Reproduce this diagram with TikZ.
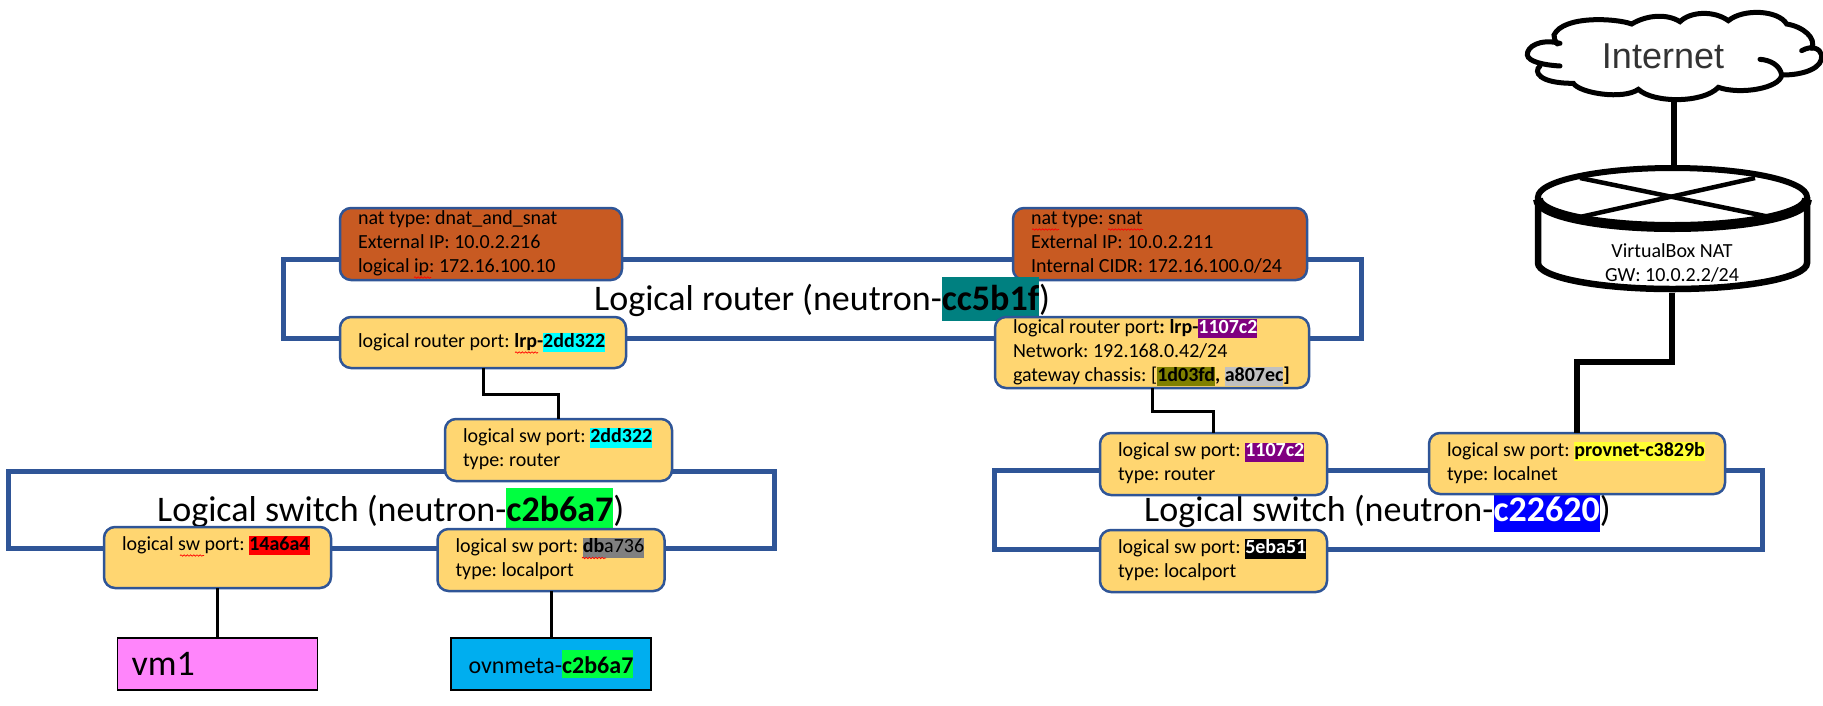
\documentclass[tikz,border=0pt]{standalone}
\usepackage{fontspec}
\setmainfont{Carlito}
\newfontfamily\inetfont{Liberation Sans}
\usetikzlibrary{decorations.pathmorphing}
\definecolor{natfill}{HTML}{C85A22}
\definecolor{portfill}{HTML}{FFD671}
\definecolor{edge}{HTML}{2F5597}
\definecolor{hcyan}{HTML}{00FFFF}
\definecolor{hlime}{HTML}{00FF40}
\definecolor{hteal}{HTML}{008080}
\definecolor{hpurple}{HTML}{800080}
\definecolor{holive}{HTML}{808000}
\definecolor{hsilver}{HTML}{C0C0C0}
\definecolor{hgray}{HTML}{808080}
\definecolor{hyellow}{HTML}{FFFF33}
\definecolor{vmpink}{HTML}{FF85FB}
\definecolor{ovnblue}{HTML}{00AEEF}
\frenchspacing
\newcommand\ls{\rule[-5pt]{0pt}{19pt}}
\newcommand\tln[1]{\mbox{\spaceskip=0pt\relax\ls #1}}
\newcommand\hlt[2]{{\setlength{\fboxsep}{0pt}\colorbox{#1}{\ls #2}}}
\newcommand\hltb[2]{{\setlength{\fboxsep}{0pt}\colorbox{#1}{\rule[-11pt]{0pt}{44pt}#2}}}
\newcommand\hlo[2]{{\setlength{\fboxsep}{0pt}\colorbox{#1}{\rule[-5pt]{0pt}{28pt}#2}}}
\tikzset{
  small/.style={font=\fontsize{20}{24}\selectfont},
  loopbox/.style={draw=edge,line width=5pt,rectangle,inner sep=0pt,outer sep=0pt},
  titletext/.style={anchor=base west,inner sep=0pt,font=\fontsize{36}{44}\selectfont},
  natbox/.style={small,draw=edge,fill=natfill,line width=2.5pt,rounded corners=11pt,align=left,inner xsep=18pt,inner ysep=0pt,outer sep=0pt},
  portbox/.style={small,draw=edge,fill=portfill,line width=2.5pt,rounded corners=11pt,align=left,inner xsep=18pt,inner ysep=0pt,outer sep=0pt},
  conn/.style={draw=black,line width=3pt},
  thick conn/.style={draw=black,line width=5.5pt},
  squig/.style={draw=red,line width=.7pt,decorate,decoration={snake,amplitude=.7pt,segment length=3.2pt}},
  vmbox/.style={draw=black,line width=1.2pt,rectangle,minimum height=52pt,outer sep=0pt,inner ysep=0pt},
  routerline/.style={draw=black,line width=6.5pt},
}
\begin{document}
\begin{tikzpicture}[x=1pt,y=-1pt]
\useasboundingbox (0,0) rectangle (1823,705);
% loops
\node[loopbox,minimum width=1078pt,minimum height=79pt] (lrloop) at (822,298.5) {};
\node[loopbox,minimum width=766pt,minimum height=77pt] (lsloop) at (391,509.5) {};
\node[loopbox,minimum width=768pt,minimum height=79pt] (rsloop) at (1378,509.5) {};
% NAT boxes
\node[natbox,text width=246pt,minimum height=72pt] (nata) at (481,244) {\tln{nat type: dnat\_and\_snat}\\\tln{External IP: 10.0.2.216}\\\tln{logical ip: 172.16.100.10}};
\node[natbox,text width=258pt,minimum height=72pt] (natb) at (1160,244) {\tln{nat type: snat}\\\tln{External IP: 10.0.2.211}\\\tln{Internal CIDR: 172.16.100.0/24}};
% titles
\node[titletext] (lrtitle) at (594,310) {Logical router (neutron-\hltb{hteal}{\textbf{cc5b1f}})};
\node[titletext] (lstitle) at (157,521) {Logical switch (neutron-\hltb{hlime}{\textbf{c2b6a7}})};
\node[titletext] (rstitle) at (1144,521) {Logical switch (neutron-\hltb{blue}{\textcolor{white}{\textbf{c22620}}})};
% ports
\node[portbox,text width=250pt,minimum height=51pt] (lrpa) at (483,342.5) {\tln{logical router port: \textbf{lrp-}\hlt{hcyan}{\textbf{2dd322}}}};
\node[portbox,text width=278pt,minimum height=71pt] (lrpb) at (1152,352.5) {\tln{logical router port\textbf{: lrp-}\hlt{hpurple}{\textcolor{white}{\textbf{1107c2}}}}\\\tln{Network: 192.168.0.42/24}\\\tln{gateway chassis: [\hlt{holive}{\textbf{1d03fd}}\textbf{, }\hlt{hsilver}{\textbf{a807ec}}\textbf{]}}};
\node[portbox,text width=191pt,minimum height=62pt] (swa) at (558.5,450) {\tln{logical sw port: \hlt{hcyan}{\textbf{2dd322}}}\\\tln{type: router}};
\node[portbox,text width=191pt,minimum height=61pt] (swvm) at (217.5,557.5) {\tln{logical sw port: \hlt{red}{\textbf{14a6a4}}}\\\tln{}};
\node[portbox,text width=191pt,minimum height=62pt] (swdb) at (551,560) {\tln{logical sw port: \hlt{hgray}{\textbf{db}a736}}\\\tln{type: localport}};
\node[portbox,text width=191pt,minimum height=62pt] (swr) at (1213.5,464) {\tln{logical sw port: \hlt{hpurple}{\textcolor{white}{\textbf{1107c2}}}}\\\tln{type: router}};
\node[portbox,text width=260pt,minimum height=61pt] (swp) at (1577,463.5) {\tln{logical sw port: \hlt{hyellow}{\textbf{provnet-c3829b}}}\\\tln{type: localnet}};
\node[portbox,text width=191pt,minimum height=62pt] (swl) at (1213.5,561) {\tln{logical sw port: \hlt{black}{\textcolor{white}{\textbf{5eba51}}}}\\\tln{type: localport}};
% end boxes
\node[vmbox,fill=vmpink,minimum width=200pt,text width=172pt,inner xsep=14pt,align=left,font=\fontsize{36}{44}\selectfont] (vm) at (217.5,664) {vm1};
\node[vmbox,fill=ovnblue,minimum width=200pt,align=center,font=\fontsize{24}{29}\selectfont] (ovn) at (551,664) {ovnmeta-\hlo{hlime}{\textbf{c2b6a7}}};
% spell-check marks
\draw[squig] (414,277.5) -- (431,277.5);
\draw[squig] (1032,229.5) -- (1059,229.5);
\draw[squig] (1108,229.5) -- (1143,229.5);
\draw[squig] (515,352.5) -- (538,352.5);
\draw[squig] (180,555.5) -- (204,555.5);
\draw[squig] (582,558) -- (606,558);
% router
\draw[routerline,fill=white] (1538,197) -- (1538,263) arc[start angle=180,end angle=360,x radius=134.5,y radius=-26] -- (1807,197);
\draw[draw=black,line width=6pt,fill=white] (1672.5,197) ellipse[x radius=134.5,y radius=29];
\draw[draw=black,line width=10pt] (1538,199) arc[start angle=180,end angle=360,x radius=134.5,y radius=-28];
\draw[draw=black,line width=4.5pt] (1580,178) -- (1770,217);
\draw[draw=black,line width=4.5pt] (1755,178) -- (1580,217);
\node[small,align=center,inner sep=0pt] (router) at (1672,265) {\tln{VirtualBox NAT}\\\tln{GW: 10.0.2.2/24}};
\coordinate (routertop) at (1674,165);
\coordinate (routerbot) at (1672,293);
% cloud
\begin{scope}[shift={(1450,0)},x=0.33333pt,y=-0.33333pt,line width=5pt,line cap=round]
\draw (330,130) .. controls (270,115) and (230,140) .. (232,165) .. controls (235,185) and (280,195) .. (330,198);
\draw (270,198) .. controls (250,215) and (265,250) .. (370,250) .. controls (390,280) and (520,300) .. (565,268) .. controls (610,310) and (760,310) .. (805,262) .. controls (870,285) and (990,265) .. (995,225) .. controls (990,195) and (960,180) .. (930,178);
\draw (998,225) .. controls (1060,225) and (1120,205) .. (1115,165) .. controls (1110,145) and (1085,135) .. (1055,152);
\draw (1085,145) .. controls (1100,115) and (1060,80) .. (1010,72) .. controls (985,30) and (880,25) .. (835,62) .. controls (790,30) and (720,35) .. (690,65) .. controls (650,40) and (590,45) .. (545,72) .. controls (500,55) and (340,45) .. (312,105) .. controls (312,115) and (315,125) .. (322,132);
\end{scope}
\node[inner sep=0pt,anchor=base,text=black!80,font=\inetfont\fontsize{36}{44}\selectfont] (internet) at (1663,68) {Internet};
\coordinate (cloudbot) at (1674,102);
% connectors
\draw[conn] (lrpa.south) -- ++(0,26) -| (swa.north);
\draw[conn] (lrpb.south) -- ++(0,23) -| (swr.north);
\draw[conn] (swvm.south) -- (vm.north);
\draw[conn] (swdb.south) -- (ovn.north);
\draw[thick conn] (cloudbot) -- (routertop);
\draw[thick conn] (routerbot) -- ++(0,69) -| (swp.north);
\end{tikzpicture}
\end{document}
